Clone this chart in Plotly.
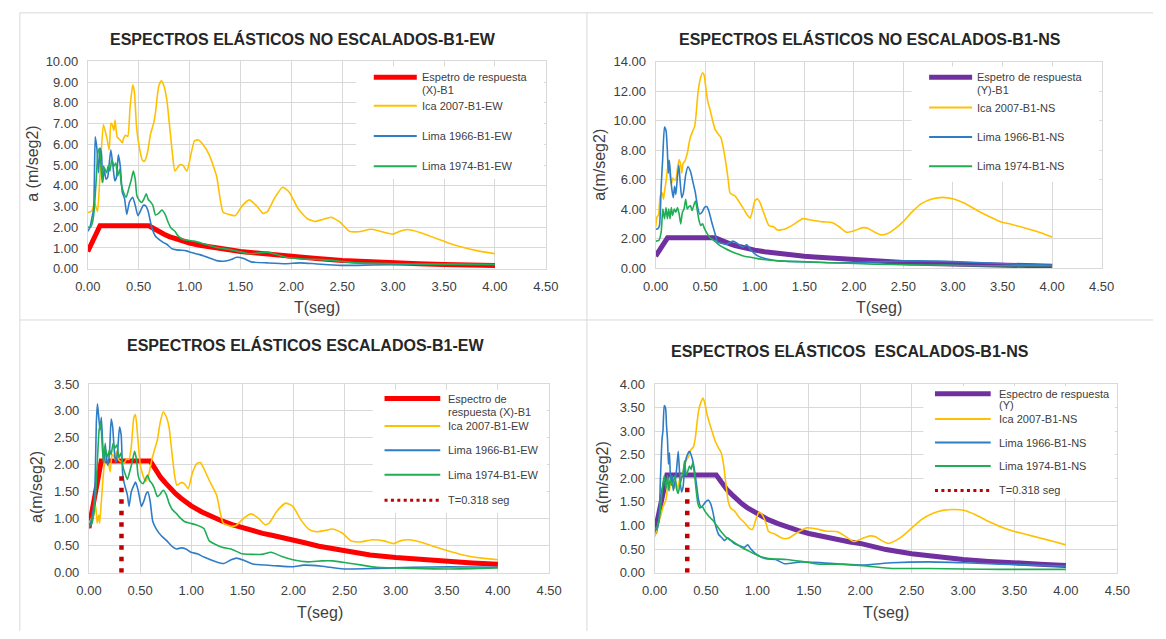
import plotly.graph_objects as go

W, H = 1166, 639
FONT = "Liberation Sans, Arial, sans-serif"

# ------------------------- DATA -------------------------
# design response spectrum (same for all panels)
spec_T = [0.00, 0.12, 0.60, 0.65, 0.70, 0.75, 0.80, 0.85, 0.90, 0.95, 1.00, 1.10, 1.20, 1.30, 1.40,
          1.50, 1.60, 1.70, 1.80, 1.90, 2.00, 2.10, 2.25, 2.50, 2.75, 3.00, 3.25, 3.50, 3.75, 4.00]
spec_A = [0.83, 2.07, 2.07, 1.91, 1.77, 1.66, 1.55, 1.46, 1.38, 1.31, 1.24, 1.13, 1.04, 0.96, 0.89,
          0.83, 0.78, 0.73, 0.69, 0.65, 0.62, 0.56, 0.49, 0.40, 0.33, 0.28, 0.24, 0.20, 0.18, 0.155]

# T = 0.318 s marker line
t318_T = [0.318, 0.318]
t318_A = [0.0, 1.9]

# --- Top-left: unscaled EW ---
tl_ica = [(0, 2.70), (0.04, 2.78), (0.065, 3.2), (0.085, 2.9), (0.096, 2.76), (0.12, 4.5), (0.153, 6.95),
          (0.185, 6.36), (0.21, 5.73), (0.227, 7.03), (0.243, 6.9), (0.256, 6.67), (0.268, 7.17), (0.288, 6.36),
          (0.313, 6.23), (0.339, 6.07), (0.351, 6.28), (0.37, 6.44), (0.393, 6.39), (0.415, 7.77), (0.441, 8.87),
          (0.457, 8.56), (0.479, 6.83), (0.505, 5.89), (0.537, 5.23), (0.556, 5.18), (0.585, 5.57), (0.617, 6.51),
          (0.649, 7.06), (0.665, 7.54), (0.696, 8.79), (0.722, 9.06), (0.744, 8.87), (0.776, 8.16), (0.808, 6.67),
          (0.831, 5.57), (0.856, 4.71), (0.904, 5.02), (0.936, 4.98), (0.974, 4.71), (1.016, 5.57), (1.048, 6.17),
          (1.088, 6.21), (1.13, 6.0), (1.195, 5.47), (1.266, 4.45), (1.33, 2.72), (1.409, 2.59), (1.45, 2.56),
          (1.516, 3.03), (1.587, 3.32), (1.658, 3.03), (1.722, 2.67), (1.765, 2.75), (1.837, 3.43), (1.915, 3.93),
          (1.979, 3.69), (2.068, 2.88), (2.158, 2.41), (2.229, 2.28), (2.3, 2.36), (2.39, 2.48), (2.478, 2.25),
          (2.568, 1.81), (2.657, 1.78), (2.782, 1.9), (2.871, 1.81), (2.996, 1.67), (3.067, 1.81), (3.138, 1.89),
          (3.263, 1.75), (3.406, 1.49), (3.549, 1.23), (3.691, 1.02), (3.834, 0.86), (4.0, 0.72)]
tl_l66 = [(0, 1.81), (0.019, 1.96), (0.04, 2.43), (0.058, 2.9), (0.073, 6.36), (0.089, 5.81), (0.105, 4.63),
          (0.121, 5.81), (0.134, 5.57), (0.147, 4.16), (0.16, 4.79), (0.179, 4.32), (0.195, 4.4), (0.211, 5.1),
          (0.227, 5.73), (0.249, 4.87), (0.265, 4.24), (0.281, 4.4), (0.3, 5.49), (0.319, 4.95), (0.339, 3.69),
          (0.361, 3.38), (0.383, 2.62), (0.409, 3.22), (0.441, 3.45), (0.466, 3.06), (0.492, 2.56), (0.514, 2.75),
          (0.546, 3.06), (0.569, 3.03), (0.594, 2.75), (0.626, 2.04), (0.665, 1.57), (0.712, 1.37), (0.744, 1.26),
          (0.776, 1.18), (0.824, 0.97), (0.872, 0.91), (0.92, 0.89), (0.968, 0.86), (1.016, 0.78), (1.1, 0.68),
          (1.195, 0.52), (1.266, 0.39), (1.337, 0.36), (1.409, 0.44), (1.462, 0.55), (1.533, 0.49), (1.605, 0.33),
          (1.765, 0.28), (1.944, 0.24), (2.086, 0.28), (2.229, 0.24), (2.478, 0.16), (2.8, 0.18), (3.2, 0.2),
          (3.6, 0.21), (4.0, 0.2)]
tl_l74 = [(0, 2.01), (0.026, 2.0), (0.048, 2.28), (0.064, 2.9), (0.083, 4.32), (0.099, 5.57), (0.115, 5.81),
          (0.128, 5.1), (0.141, 4.16), (0.153, 4.95), (0.169, 4.79), (0.185, 4.63), (0.2, 4.95), (0.217, 4.71),
          (0.236, 5.26), (0.256, 4.95), (0.275, 5.1), (0.294, 4.47), (0.313, 4.79), (0.329, 4.08), (0.351, 3.69),
          (0.377, 3.45), (0.402, 3.85), (0.425, 4.24), (0.447, 4.71), (0.466, 4.32), (0.482, 3.53), (0.505, 3.3),
          (0.53, 3.19), (0.553, 3.38), (0.575, 3.61), (0.594, 3.34), (0.617, 3.22), (0.639, 3.06), (0.665, 2.59),
          (0.696, 2.67), (0.728, 2.83), (0.76, 2.62), (0.786, 2.28), (0.818, 1.96), (0.856, 1.81), (0.888, 1.57),
          (0.936, 1.41), (0.984, 1.37), (1.04, 1.33), (1.12, 1.23), (1.266, 1.02), (1.409, 0.91), (1.587, 0.72),
          (1.765, 0.8), (1.944, 0.55), (2.122, 0.47), (2.3, 0.44), (2.478, 0.36), (2.657, 0.28), (3.01, 0.24),
          (3.37, 0.22), (4.0, 0.2)]

# --- Top-right: unscaled NS ---
tr_ica = [(0, 2.8), (0.013, 3.47), (0.03, 3.64), (0.046, 4.9), (0.066, 5.12), (0.079, 4.68), (0.092, 5.34),
          (0.105, 5.89), (0.118, 6.67), (0.132, 7.33), (0.145, 6.23), (0.158, 5.67), (0.171, 6.11), (0.188, 6.0),
          (0.204, 6.0), (0.22, 6.78), (0.237, 7.37), (0.253, 7.0), (0.263, 6.45), (0.276, 7.1), (0.296, 7.28),
          (0.309, 7.55), (0.322, 7.88), (0.336, 8.43), (0.352, 8.92), (0.368, 9.2), (0.395, 9.65), (0.408, 10.42),
          (0.428, 11.96), (0.451, 12.85), (0.474, 13.25), (0.49, 13.07), (0.507, 12.19), (0.526, 11.3),
          (0.549, 10.75), (0.572, 10.09), (0.599, 9.43), (0.632, 9.09), (0.658, 8.87), (0.681, 8.21),
          (0.704, 7.33), (0.73, 6.11), (0.75, 5.12), (0.77, 5.01), (0.803, 4.9), (0.836, 4.57), (0.878, 4.13),
          (0.928, 3.58), (0.954, 3.4), (0.977, 3.91), (1.0, 4.57), (1.026, 4.72), (1.053, 4.46), (1.1, 3.6),
          (1.144, 2.89), (1.19, 2.82), (1.228, 2.6), (1.3, 2.65), (1.393, 2.98), (1.485, 3.37), (1.577, 3.26),
          (1.687, 3.15), (1.778, 3.11), (1.852, 2.82), (1.925, 2.45), (1.998, 2.54), (2.09, 2.76), (2.145, 2.71),
          (2.2, 2.49), (2.274, 2.27), (2.347, 2.38), (2.42, 2.71), (2.494, 3.15), (2.585, 3.81), (2.677, 4.37),
          (2.787, 4.7), (2.897, 4.81), (3.007, 4.7), (3.117, 4.41), (3.245, 3.92), (3.374, 3.48), (3.484, 3.15),
          (3.594, 2.98), (3.74, 2.71), (3.887, 2.42), (4.0, 2.12)]
tr_l66 = [(0, 2.65), (0.023, 2.69), (0.039, 2.91), (0.056, 5.56), (0.072, 7.55), (0.089, 9.58), (0.105, 9.32),
          (0.118, 7.99), (0.128, 6.45), (0.138, 7.33), (0.151, 6.23), (0.164, 5.34), (0.178, 4.79), (0.191, 5.56),
          (0.204, 5.01), (0.22, 6.23), (0.234, 7.0), (0.247, 5.89), (0.263, 4.79), (0.28, 5.12), (0.303, 6.34),
          (0.326, 6.89), (0.352, 6.56), (0.375, 5.89), (0.401, 5.12), (0.421, 4.24), (0.444, 3.69), (0.467, 3.8),
          (0.493, 4.13), (0.516, 4.19), (0.539, 3.84), (0.566, 3.13), (0.599, 2.36), (0.625, 1.77), (0.664, 1.7),
          (0.714, 1.63), (0.78, 1.85), (0.822, 1.7), (0.878, 1.45), (0.92, 1.6), (0.96, 1.25), (1.03, 0.85),
          (1.086, 0.7), (1.15, 0.6), (1.247, 0.5), (1.467, 0.45), (1.83, 0.38), (2.2, 0.44), (2.567, 0.51),
          (2.934, 0.48), (3.3, 0.38), (3.667, 0.28), (4.0, 0.22)]
tr_l74 = [(0, 1.85), (0.033, 1.9), (0.056, 2.47), (0.072, 4.02), (0.089, 3.36), (0.105, 4.13), (0.118, 3.36),
          (0.132, 4.02), (0.145, 3.36), (0.158, 4.13), (0.171, 3.58), (0.188, 4.02), (0.204, 3.8), (0.22, 4.13),
          (0.237, 3.69), (0.253, 3.02), (0.27, 3.8), (0.286, 4.02), (0.303, 4.68), (0.319, 4.02), (0.336, 4.19),
          (0.352, 4.24), (0.368, 3.91), (0.388, 4.35), (0.401, 4.57), (0.418, 4.02), (0.434, 3.36), (0.454, 2.91),
          (0.474, 3.02), (0.493, 2.69), (0.52, 2.36), (0.549, 2.08), (0.582, 1.92), (0.632, 1.63), (0.697, 1.37),
          (0.763, 1.15), (0.829, 0.97), (0.895, 0.82), (0.993, 0.71), (1.086, 0.6), (1.247, 0.51), (1.467, 0.46),
          (1.83, 0.37), (2.2, 0.29), (2.567, 0.24), (2.934, 0.22), (3.3, 0.18), (4.0, 0.18)]

# --- Bottom-left: scaled EW ---
bl_ica = [(0, 0.92), (0.025, 1.01), (0.051, 1.1), (0.067, 1.23), (0.08, 0.92), (0.096, 1.07), (0.105, 0.92),
          (0.121, 1.32), (0.137, 1.74), (0.153, 2.07), (0.169, 2.25), (0.185, 2.1), (0.207, 1.87), (0.226, 2.19),
          (0.242, 2.16), (0.255, 2.1), (0.268, 2.25), (0.287, 2.1), (0.318, 2.05), (0.344, 2.03), (0.369, 2.11),
          (0.392, 2.1), (0.414, 2.34), (0.439, 2.88), (0.455, 2.93), (0.478, 2.49), (0.503, 1.98), (0.529, 1.8),
          (0.554, 1.69), (0.583, 1.81), (0.615, 2.1), (0.646, 2.31), (0.669, 2.46), (0.694, 2.76), (0.726, 2.98),
          (0.752, 2.91), (0.783, 2.7), (0.815, 2.16), (0.838, 1.8), (0.86, 1.62), (0.901, 1.67), (0.933, 1.65),
          (0.971, 1.56), (1.013, 1.86), (1.06, 2.03), (1.092, 2.04), (1.134, 1.89), (1.177, 1.71), (1.248, 1.44),
          (1.312, 0.92), (1.39, 0.86), (1.443, 0.88), (1.514, 1.01), (1.586, 1.09), (1.657, 1.01), (1.721, 0.89),
          (1.763, 0.92), (1.834, 1.13), (1.923, 1.29), (1.994, 1.23), (2.073, 0.98), (2.154, 0.8), (2.225, 0.76),
          (2.297, 0.78), (2.385, 0.81), (2.474, 0.74), (2.563, 0.59), (2.652, 0.57), (2.776, 0.61), (2.883, 0.59),
          (2.983, 0.54), (3.043, 0.59), (3.132, 0.61), (3.256, 0.56), (3.398, 0.47), (3.541, 0.39), (3.683, 0.32),
          (3.843, 0.27), (4.0, 0.24)]
bl_l66 = [(0, 0.82), (0.019, 0.95), (0.041, 1.16), (0.057, 1.5), (0.073, 2.82), (0.083, 3.13), (0.096, 2.88),
          (0.108, 2.64), (0.121, 2.88), (0.134, 2.4), (0.146, 2.04), (0.159, 2.4), (0.172, 2.1), (0.185, 1.99),
          (0.201, 2.22), (0.217, 2.85), (0.232, 2.7), (0.248, 2.25), (0.264, 2.03), (0.28, 2.25), (0.299, 2.7),
          (0.315, 2.55), (0.331, 1.8), (0.35, 1.62), (0.376, 1.44), (0.392, 1.23), (0.414, 1.5), (0.439, 1.62),
          (0.455, 1.68), (0.481, 1.53), (0.513, 1.23), (0.535, 1.32), (0.561, 1.47), (0.576, 1.5), (0.599, 1.32),
          (0.624, 0.95), (0.662, 0.8), (0.71, 0.68), (0.758, 0.6), (0.806, 0.5), (0.854, 0.44), (0.901, 0.46),
          (0.949, 0.44), (0.997, 0.38), (1.06, 0.35), (1.124, 0.29), (1.248, 0.2), (1.319, 0.17), (1.39, 0.24),
          (1.443, 0.27), (1.514, 0.23), (1.603, 0.16), (1.817, 0.13), (1.994, 0.11), (2.101, 0.14), (2.279, 0.12),
          (2.492, 0.07), (2.812, 0.08), (3.167, 0.1), (3.523, 0.11), (4.0, 0.1)]
bl_l74 = [(0, 0.86), (0.025, 0.9), (0.048, 1.1), (0.067, 1.5), (0.083, 2.1), (0.099, 2.64), (0.115, 2.78),
          (0.127, 2.46), (0.14, 2.04), (0.153, 2.34), (0.169, 2.22), (0.185, 2.16), (0.201, 2.28), (0.217, 2.19),
          (0.236, 2.4), (0.255, 2.31), (0.274, 2.37), (0.293, 2.13), (0.312, 2.22), (0.331, 1.98), (0.354, 1.83),
          (0.376, 1.73), (0.401, 1.89), (0.424, 2.07), (0.446, 2.25), (0.465, 2.1), (0.481, 1.8), (0.503, 1.69),
          (0.529, 1.65), (0.551, 1.73), (0.573, 1.81), (0.592, 1.71), (0.618, 1.65), (0.64, 1.56), (0.669, 1.41),
          (0.694, 1.45), (0.726, 1.53), (0.758, 1.44), (0.783, 1.29), (0.815, 1.17), (0.854, 1.1), (0.885, 1.03),
          (0.933, 0.95), (0.981, 0.92), (1.045, 0.89), (1.124, 0.82), (1.177, 0.59), (1.301, 0.47), (1.39, 0.44),
          (1.497, 0.35), (1.603, 0.34), (1.692, 0.34), (1.781, 0.38), (1.888, 0.3), (1.994, 0.24), (2.137, 0.2),
          (2.279, 0.22), (2.385, 0.22), (2.528, 0.18), (2.67, 0.14), (2.812, 0.1), (3.167, 0.08), (3.523, 0.07),
          (4.0, 0.09)]

# --- Bottom-right: scaled NS ---
br_ica = [(0, 0.76), (0.019, 0.88), (0.041, 1.09), (0.063, 1.23), (0.082, 1.4), (0.097, 1.47), (0.113, 1.57),
          (0.129, 1.85), (0.145, 1.74), (0.16, 1.99), (0.176, 1.85), (0.192, 1.78), (0.208, 1.92), (0.223, 1.78),
          (0.239, 1.92), (0.255, 2.06), (0.27, 2.09), (0.283, 2.19), (0.296, 2.33), (0.314, 2.4), (0.333, 2.47),
          (0.355, 2.61), (0.377, 2.66), (0.396, 2.85), (0.412, 3.16), (0.428, 3.43), (0.45, 3.61), (0.472, 3.7),
          (0.491, 3.57), (0.513, 3.33), (0.535, 3.16), (0.56, 2.99), (0.591, 2.78), (0.623, 2.64), (0.648, 2.54),
          (0.67, 2.3), (0.692, 1.92), (0.717, 1.5), (0.739, 1.37), (0.78, 1.3), (0.827, 1.16), (0.874, 1.06),
          (0.921, 0.94), (0.953, 0.92), (0.984, 1.12), (1.016, 1.28), (1.047, 1.23), (1.088, 1.02), (1.106, 0.88),
          (1.177, 0.81), (1.241, 0.73), (1.301, 0.73), (1.389, 0.85), (1.478, 0.95), (1.566, 0.93), (1.672, 0.88),
          (1.778, 0.87), (1.849, 0.78), (1.937, 0.66), (2.025, 0.73), (2.096, 0.78), (2.149, 0.76), (2.209, 0.68),
          (2.273, 0.62), (2.344, 0.68), (2.414, 0.78), (2.503, 0.95), (2.591, 1.12), (2.697, 1.25), (2.803, 1.32),
          (2.909, 1.34), (3.015, 1.32), (3.121, 1.23), (3.245, 1.09), (3.369, 0.97), (3.492, 0.88), (3.616, 0.81),
          (3.758, 0.73), (3.881, 0.66), (4.0, 0.59)]
br_l66 = [(0, 0.88), (0.019, 0.92), (0.041, 1.09), (0.057, 1.99), (0.072, 2.81), (0.082, 3.02), (0.094, 3.54),
          (0.107, 3.49), (0.116, 3.12), (0.126, 2.81), (0.135, 2.3), (0.145, 2.54), (0.157, 1.92), (0.17, 2.06),
          (0.182, 1.74), (0.198, 1.92), (0.214, 2.19), (0.23, 2.57), (0.245, 2.06), (0.261, 1.71), (0.277, 1.81),
          (0.292, 2.23), (0.314, 2.47), (0.34, 2.57), (0.365, 2.43), (0.387, 2.19), (0.409, 1.85), (0.428, 1.54),
          (0.45, 1.4), (0.472, 1.43), (0.497, 1.5), (0.522, 1.54), (0.544, 1.47), (0.566, 1.3), (0.591, 1.02),
          (0.623, 0.81), (0.654, 0.74), (0.679, 0.68), (0.711, 0.74), (0.742, 0.68), (0.78, 0.61), (0.827, 0.57),
          (0.874, 0.54), (0.906, 0.59), (0.937, 0.5), (0.984, 0.4), (1.031, 0.34), (1.094, 0.29), (1.177, 0.28),
          (1.265, 0.19), (1.425, 0.23), (1.778, 0.19), (2.025, 0.16), (2.308, 0.21), (2.662, 0.23), (3.015, 0.21),
          (3.369, 0.18), (4.0, 0.14)]
br_l74 = [(0, 0.92), (0.025, 0.97), (0.047, 1.16), (0.063, 1.5), (0.079, 1.85), (0.094, 2.06), (0.11, 1.78),
          (0.126, 2.06), (0.138, 1.74), (0.151, 1.99), (0.167, 1.85), (0.182, 1.92), (0.198, 2.06), (0.214, 1.78),
          (0.23, 1.68), (0.245, 1.85), (0.261, 1.99), (0.277, 2.12), (0.292, 2.37), (0.308, 2.06), (0.324, 2.16),
          (0.34, 2.26), (0.355, 2.19), (0.371, 2.33), (0.387, 2.12), (0.403, 1.78), (0.421, 1.47), (0.44, 1.37),
          (0.465, 1.4), (0.491, 1.3), (0.516, 1.23), (0.544, 1.16), (0.575, 1.09), (0.607, 0.99), (0.654, 0.85),
          (0.701, 0.74), (0.748, 0.68), (0.796, 0.61), (0.843, 0.54), (0.906, 0.47), (0.969, 0.4), (1.031, 0.34),
          (1.11, 0.3), (1.283, 0.28), (1.425, 0.24), (1.601, 0.18), (1.778, 0.18), (2.025, 0.15), (2.308, 0.09),
          (2.662, 0.09), (3.015, 0.08), (3.369, 0.07), (4.0, 0.07)]

# ------------------------- STYLE -------------------------
C_RED = "#FF0000"
C_PUR = "#7030A0"
C_YEL = "#FFC000"
C_BLU = "#2E7DC6"
C_GRN = "#1FAD55"
C_DOT = "#C00000"
GRID = "#D9D9D9"
TXT = "#404040"

# panel geometry in pixels: (x at T=0, x at T=4.5, y at top value, y at 0, top value, dtick)
panels = [
    dict(x0=76.5, x1=545.0, yt=55.7, yb=268.0, top=10.0, dt=1.0),
    dict(x0=657.3, x1=1113.5, yt=56.0, yb=267.7, top=14.0, dt=2.0),
    dict(x0=77.7, x1=548.3, yt=386.0, yb=579.3, top=3.5, dt=0.5),
    dict(x0=656.2, x1=1129.5, yt=386.0, yb=579.3, top=4.0, dt=0.5),
]


def px(x):
    return x / W


def py(y):
    return 1 - y / H


fig = go.Figure()


def unz(pts):
    return [p[0] for p in pts], [p[1] for p in pts]


def add_curve(pts, color, ax):
    t, a = unz(pts)
    fig.add_trace(go.Scatter(x=t, y=a, mode="lines", xaxis="x" + ax, yaxis="y" + ax,
                             line=dict(color=color, width=1.6, shape="spline", smoothing=0.5),
                             showlegend=False, hoverinfo="skip"))


def add_spec(color, ax):
    fig.add_trace(go.Scatter(x=spec_T, y=spec_A, mode="lines", xaxis="x" + ax, yaxis="y" + ax,
                             line=dict(color=color, width=5), showlegend=False, hoverinfo="skip"))


def add_dot(ax):
    fig.add_trace(go.Scatter(x=t318_T, y=t318_A, mode="lines", xaxis="x" + ax, yaxis="y" + ax,
                             line=dict(color=C_DOT, width=4.5, dash="4.5px,7px"),
                             showlegend=False, hoverinfo="skip"))


add_spec(C_RED, "")
add_curve(tl_ica, C_YEL, "")
add_curve(tl_l66, C_BLU, "")
add_curve(tl_l74, C_GRN, "")

add_spec(C_PUR, "2")
add_curve(tr_ica, C_YEL, "2")
add_curve(tr_l66, C_BLU, "2")
add_curve(tr_l74, C_GRN, "2")

add_spec(C_RED, "3")
add_curve(bl_ica, C_YEL, "3")
add_curve(bl_l66, C_BLU, "3")
add_curve(bl_l74, C_GRN, "3")
add_dot("3")

add_spec(C_PUR, "4")
add_curve(br_ica, C_YEL, "4")
add_curve(br_l66, C_BLU, "4")
add_curve(br_l74, C_GRN, "4")
add_dot("4")

layout = dict(width=W, height=H, margin=dict(l=0, r=0, t=0, b=0),
              paper_bgcolor="white", plot_bgcolor="white", showlegend=False,
              font=dict(family=FONT, color=TXT))

for i, p in enumerate(panels):
    s = "" if i == 0 else str(i + 1)
    common = dict(showgrid=True, gridcolor=GRID, gridwidth=1, zeroline=False, showline=True,
                  linecolor=GRID, linewidth=1, mirror=True, ticks="", tickformat=".2f",
                  tickfont=dict(family=FONT, size=13, color=TXT), fixedrange=True)
    layout["xaxis" + s] = dict(common, domain=[px(p["x0"]), px(p["x1"])], range=[0, 4.5],
                               tick0=0, dtick=0.5, anchor="y" + s, ticklabelstandoff=6)
    layout["yaxis" + s] = dict(common, domain=[py(p["yb"]), py(p["yt"])], range=[0, p["top"]],
                               tick0=0, dtick=p["dt"], anchor="x" + s, ticklabelstandoff=6)

fig.update_layout(**layout)

shapes = []
annotations = []

# panel borders
for (x0, y0, x1, y1) in [(7, 6, 7, 639), (587, 6, 587, 639), (7, 6, 1166, 6), (7, 320.5, 1166, 320.5)]:
    shapes.append(dict(type="line", xref="paper", yref="paper", x0=px(x0), y0=py(y0), x1=px(x1), y1=py(y1),
                       line=dict(color=GRID, width=1)))

# titles
titles = [
    ("ESPECTROS ELÁSTICOS NO ESCALADOS-B1-EW", 297, 33),
    ("ESPECTROS ELÁSTICOS NO ESCALADOS-B1-NS", 877, 33),
    ("ESPECTROS ELÁSTICOS ESCALADOS-B1-EW", 299, 346),
    ("ESPECTROS ELÁSTICOS  ESCALADOS-B1-NS", 856, 352),
]
for txt, x, y in titles:
    annotations.append(dict(text="<b>" + txt.replace("  ", "&nbsp; ") + "</b>", xref="paper", yref="paper",
                            x=px(x), y=py(y), xanchor="center", yanchor="middle", showarrow=False,
                            font=dict(family=FONT, size=16, color="#262626")))

# axis titles
xtitles = [(311, 308), (886, 308), (314, 620), (893, 620)]
for x, y in xtitles:
    annotations.append(dict(text="T(seg)", xref="paper", yref="paper", x=px(x), y=py(y),
                            xanchor="center", yanchor="middle", showarrow=False,
                            font=dict(family=FONT, size=16, color=TXT)))
ytitles = [("a (m/seg2)", 20, 161), ("a(m/seg2)", 600, 162), ("a(m/seg2)", 24, 491), ("a(m/seg2)", 603, 482)]
for txt, x, y in ytitles:
    annotations.append(dict(text=txt, xref="paper", yref="paper", x=px(x), y=py(y), textangle=-90,
                            xanchor="center", yanchor="middle", showarrow=False,
                            font=dict(family=FONT, size=16, color=TXT)))

# legends (white box, sample line, text lines); first item may have two text lines
legends = [
    dict(box=(351, 61, 543, 176), lx=(369, 413), tx=417,
         items=[(["Espetro de respuesta", "(X)-B1"], [72, 85], C_RED, 5, None),
                (["Ica 2007-B1-EW"], [101], C_YEL, 2, None),
                (["Lima 1966-B1-EW"], [132], C_BLU, 2, None),
                (["Lima 1974-B1-EW"], [163], C_GRN, 2, None)]),
    dict(box=(919, 61, 1111, 179), lx=(937, 981), tx=985,
         items=[(["Espetro de respuesta", "(Y)-B1"], [72, 85], C_PUR, 5, None),
                (["Ica 2007-B1-NS"], [103], C_YEL, 2, None),
                (["Lima 1966-B1-NS"], [133], C_BLU, 2, None),
                (["Lima 1974-B1-NS"], [163], C_GRN, 2, None)]),
    dict(box=(368, 392, 546, 518), lx=(380, 437), tx=444,
         items=[(["Espectro de", "respuesta (X)-B1"], [401, 415], C_RED, 5, None),
                (["Ica 2007-B1-EW"], [429], C_YEL, 2, None),
                (["Lima 1966-B1-EW"], [454], C_BLU, 2, None),
                (["Lima 1974-B1-EW"], [479], C_GRN, 2, None),
                (["T=0.318 seg"], [505], C_DOT, 3, "3px,3.4px")]),
    dict(box=(931, 388, 1127, 503), lx=(943, 1000), tx=1007,
         items=[(["Espectro de respuesta", "(Y)"], [396, 408], C_PUR, 5, None),
                (["Ica 2007-B1-NS"], [422], C_YEL, 2, None),
                (["Lima 1966-B1-NS"], [446], C_BLU, 2, None),
                (["Lima 1974-B1-NS"], [470], C_GRN, 2, None),
                (["T=0.318 seg"], [495], C_DOT, 3, "3px,3.4px")]),
]
for lg in legends:
    bx0, by0, bx1, by1 = lg["box"]
    shapes.append(dict(type="rect", xref="paper", yref="paper", x0=px(bx0), y0=py(by1), x1=px(bx1), y1=py(by0),
                       fillcolor="white", line=dict(width=0), layer="above"))
    for texts, ys, color, w, dash in lg["items"]:
        ln = dict(color=color, width=w)
        if dash:
            ln["dash"] = dash
        shapes.append(dict(type="line", xref="paper", yref="paper", x0=px(lg["lx"][0]), x1=px(lg["lx"][1]),
                           y0=py(ys[0]), y1=py(ys[0]), line=ln, layer="above"))
        for txt, y in zip(texts, ys):
            annotations.append(dict(text=txt, xref="paper", yref="paper", x=px(lg["tx"]), y=py(y),
                                    xanchor="left", yanchor="middle", align="left", showarrow=False,
                                    borderpad=0, font=dict(family=FONT, size=11, color=TXT)))

fig.update_layout(shapes=shapes, annotations=annotations)
fig.write_html("out.html")
